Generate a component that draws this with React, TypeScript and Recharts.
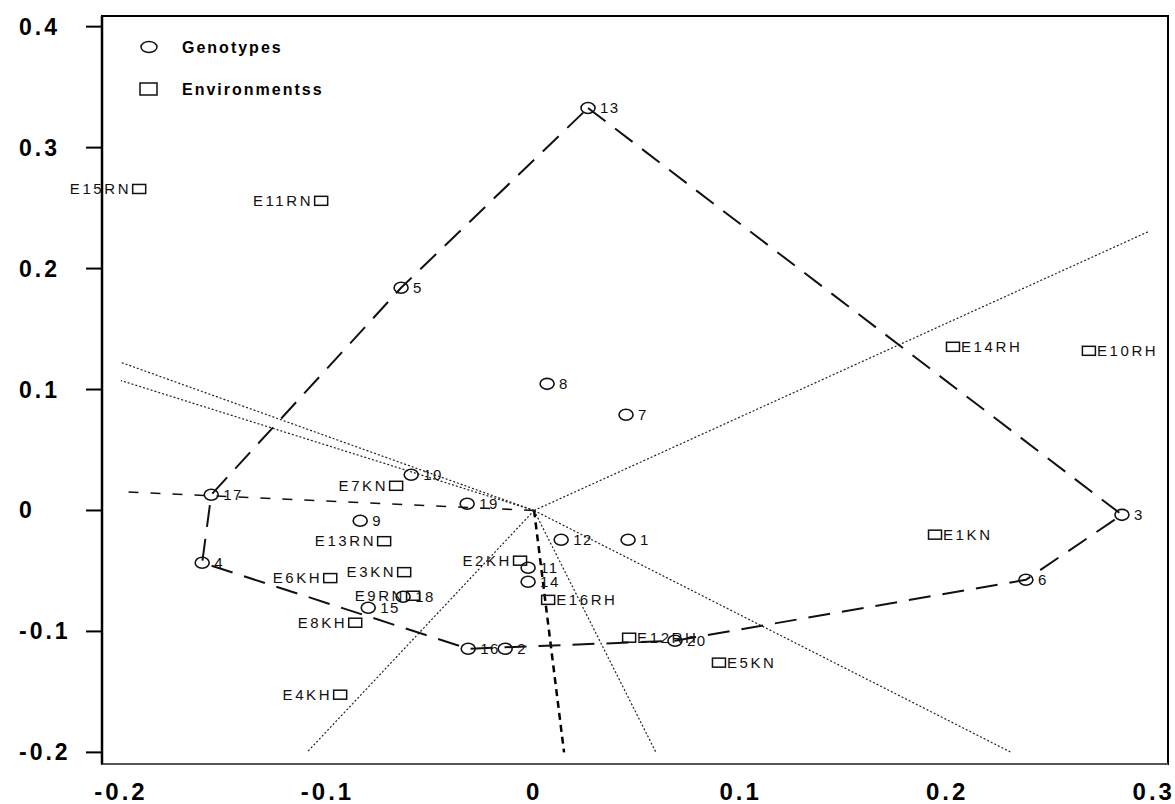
import React from 'react'
import {
  ScatterChart,
  Scatter,
  XAxis,
  YAxis,
  ReferenceLine,
  ReferenceArea,
} from 'recharts'

// genotypes (circles)
const genoIds = ['1', '2', '3', '4', '5', '6', '7', '8', '9', '10', '11', '12', '13', '14', '15', '16', '17', '18', '19', '20']
const genoX = [0.0455, -0.014, 0.2846, -0.1607, -0.0644, 0.2381, 0.0445, 0.0063, -0.0842, -0.0595, -0.0029, 0.0131, 0.0261, -0.0029, -0.0803, -0.0319, -0.1563, -0.0634, -0.0324, 0.0682]
const genoY = [-0.0242, -0.1143, -0.0036, -0.0432, 0.1841, -0.0573, 0.0791, 0.1047, -0.0085, 0.0295, -0.0474, -0.0242, 0.3328, -0.0589, -0.0804, -0.1143, 0.013, -0.0713, 0.0055, -0.1077]

// environments (squares)
const envIds = ['E1KN', 'E2KH', 'E3KN', 'E4KH', 'E5KN', 'E6KH', 'E7KN', 'E8KH', 'E9RN', 'E10RH', 'E11RN', 'E12RH', 'E13RN', 'E14RH', 'E15RN', 'E16RH']
const envX = [0.1941, -0.0068, -0.0629, -0.0939, 0.0895, -0.0987, -0.0668, -0.0866, -0.0586, 0.2686, -0.1031, 0.046, -0.0726, 0.2028, -0.1912, 0.0068]
const envY = [-0.02, -0.0415, -0.051, -0.1523, -0.1258, -0.0559, 0.0204, -0.0928, -0.0705, 0.132, 0.256, -0.1052, -0.0254, 0.1353, 0.2658, -0.0739]
const envSide = ['r', 'l', 'l', 'l', 'r', 'l', 'l', 'l', 'l', 'r', 'l', 'r', 'l', 'r', 'l', 'r']

// polygon vertices (which-won-where)
const hullOrder = ['13', '3', '6', '20', '16', '4', '17', '5', '13']

// rays from the origin, end points
const rayEnds = [
  { x: 0.298, y: 0.231, style: 'dot' },
  { x: 0.231, y: -0.2, style: 'dot' },
  { x: 0.059, y: -0.2, style: 'dot' },
  { x: 0.0145, y: -0.2, style: 'heavy' },
  { x: -0.11, y: -0.2, style: 'dot' },
  { x: -0.2, y: 0.0155, style: 'dash' },
  { x: -0.2, y: 0.1074, style: 'dot' },
  { x: -0.2, y: 0.1224, style: 'dot' },
]

const xTicks = [-0.2, -0.1, 0, 0.1, 0.2, 0.3]
const yTicks = [-0.2, -0.1, 0, 0.1, 0.2, 0.3, 0.4]
const xDomain = [-0.2092, 0.3069]
const yDomain = [-0.2096, 0.4088]

const FONT = '"Liberation Sans", Arial, sans-serif'

const genotypes = genoIds.map((id, i) => ({ x: genoX[i], y: genoY[i], name: id }))
const environments = envIds.map((id, i) => ({ x: envX[i], y: envY[i], name: id, side: envSide[i] }))
const hull = hullOrder.map((id) => genotypes.find((g) => g.name === id)!)

const rayStyle: Record<string, any> = {
  dot: { stroke: '#222', strokeWidth: 1.2, strokeDasharray: '2 2' },
  heavy: { stroke: '#000', strokeWidth: 2.5, strokeDasharray: '7 5' },
  dash: { stroke: '#111', strokeWidth: 1.6, strokeDasharray: '10 12' },
}

function fmt(v: number) {
  return v === 0 ? '0' : v.toFixed(1)
}

function GenoShape(props: any) {
  const { cx, cy, payload } = props
  return (
    <g>
      <ellipse cx={cx} cy={cy} rx={7} ry={5.5} fill="none" stroke="#111" strokeWidth={1.6} />
      <text x={cx + 12} y={cy + 5} fontSize={15} fontFamily={FONT} letterSpacing={1.5} fill="#111">
        {payload.name}
      </text>
    </g>
  )
}

function EnvShape(props: any) {
  const { cx, cy, payload } = props
  const left = payload.side === 'l'
  return (
    <g>
      <rect x={cx - 6.5} y={cy - 4.5} width={13} height={9} fill="none" stroke="#111" strokeWidth={1.5} />
      <text
        x={left ? cx - 8 : cx + 8}
        y={cy + 5}
        fontSize={15}
        fontFamily={FONT}
        letterSpacing={2.6}
        textAnchor={left ? 'end' : 'start'}
        fill="#111"
      >
        {payload.name}
      </text>
    </g>
  )
}

function YTick({ y, payload }: any) {
  return (
    <text x={19} y={y + 8} fontSize={23} fontWeight="bold" fontFamily={FONT} letterSpacing={3} fill="#000">
      {fmt(payload.value)}
    </text>
  )
}

function XTick({ x, payload }: any) {
  return (
    <text x={x} y={800} fontSize={24} fontWeight="bold" fontFamily={FONT} letterSpacing={3} textAnchor="middle" fill="#000">
      {fmt(payload.value)}
    </text>
  )
}

export default function App() {
  return (
    <div style={{ position: 'absolute', left: 0, top: 0, width: 1175, height: 804, background: '#fff' }}>
      <ScatterChart width={1175} height={804} margin={{ top: 16, right: 7, left: 0, bottom: 0 }}>
        <XAxis
          type="number"
          dataKey="x"
          domain={xDomain}
          ticks={xTicks}
          height={40}
          axisLine={{ stroke: '#555', strokeWidth: 2 }}
          tickLine={false}
          tick={<XTick />}
        />
        <YAxis
          type="number"
          dataKey="y"
          domain={yDomain}
          ticks={yTicks}
          width={102}
          axisLine={{ stroke: '#000', strokeWidth: 2.5 }}
          tickLine={{ stroke: '#000', strokeWidth: 2 }}
          tickSize={16}
          tick={<YTick />}
        />
        <ReferenceArea
          x1={xDomain[0]}
          x2={xDomain[1]}
          y1={yDomain[0]}
          y2={yDomain[1]}
          fill="none"
          stroke="#000"
          strokeWidth={2}
          fillOpacity={0}
        />
        {rayEnds.map((r, i) => (
          <ReferenceLine
            key={i}
            segment={[{ x: 0, y: 0 }, { x: r.x, y: r.y }]}
            {...rayStyle[r.style]}
          />
        ))}
        <Scatter
          data={hull}
          line={{ stroke: '#111', strokeWidth: 2, strokeDasharray: '22 12' }}
          lineType="joint"
          shape={() => <g />}
          isAnimationActive={false}
        />
        <Scatter data={environments} shape={<EnvShape />} isAnimationActive={false} />
        <Scatter data={genotypes} shape={<GenoShape />} isAnimationActive={false} />
      </ScatterChart>
      <svg width={420} height={110} style={{ position: 'absolute', left: 0, top: 0 }}>
        <ellipse cx={149} cy={47} rx={8} ry={5.5} fill="none" stroke="#111" strokeWidth={1.5} />
        <text x={182} y={53} fontSize={16} fontWeight="bold" fontFamily={FONT} letterSpacing={2}>
          Genotypes
        </text>
        <rect x={140} y={83} width={17} height={12} fill="none" stroke="#111" strokeWidth={1.5} />
        <text x={182} y={95} fontSize={16} fontWeight="bold" fontFamily={FONT} letterSpacing={2}>
          Environmentss
        </text>
      </svg>
    </div>
  )
}
